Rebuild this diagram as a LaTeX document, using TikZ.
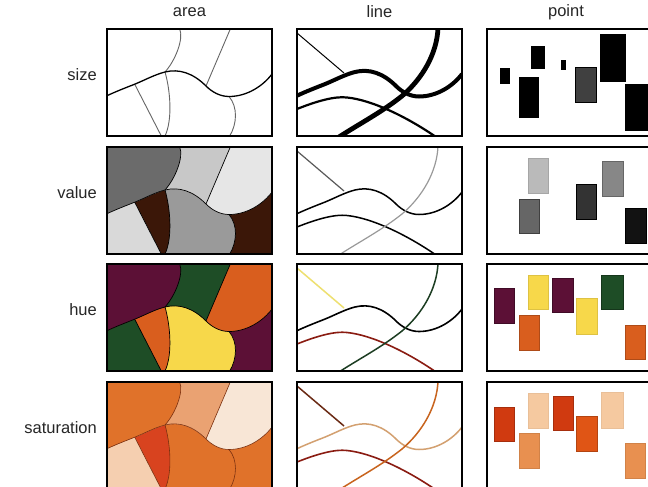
\documentclass[tikz,border=0pt]{standalone}
\usepackage{fontspec}
\setmainfont{Liberation Sans}
% main boundary segments (local panel coords 165 x 107)
\def\mone{.. controls (9,62.5) and (18,59) .. (27.7,55.2)}
\def\mtwo{.. controls (38,51) and (48,45.5) .. (58,43)}
\def\mthree{.. controls (72,39.5) and (86,44) .. (99,57)}
\def\mfour{.. controls (105,63) and (113,67.5) .. (122,67.5)}
\def\mfive{.. controls (140,67.5) and (156,57) .. (165,45)}
\def\rfive{.. controls (156,57) and (140,67.5) .. (122,67.5)}
\def\rfour{.. controls (113,67.5) and (105,63) .. (99,57)}
\def\rthree{.. controls (86,44) and (72,39.5) .. (58,43)}
\def\rtwo{.. controls (48,45.5) and (38,51) .. (27.7,55.2)}
\def\rone{.. controls (18,59) and (9,62.5) .. (0,66.7)}
\definecolor{vTL}{HTML}{6B6B6B}
\definecolor{vTM}{HTML}{C8C8C8}
\definecolor{vTR}{HTML}{E6E6E6}
\definecolor{vBL}{HTML}{D9D9D9}
\definecolor{vBr}{HTML}{3B1708}
\definecolor{vMid}{HTML}{9A9A9A}
\definecolor{hPur}{HTML}{5C1036}
\definecolor{hGrn}{HTML}{1E4D26}
\definecolor{hOra}{HTML}{D95E1E}
\definecolor{hYel}{HTML}{F7D84A}
\definecolor{sOra}{HTML}{E0722A}
\definecolor{sLt}{HTML}{EAA272}
\definecolor{sPale}{HTML}{F8E6D6}
\definecolor{sPeach}{HTML}{F5CFB0}
\definecolor{sRed}{HTML}{D8431F}
\definecolor{sBord}{HTML}{7A3010}
\definecolor{lYel}{HTML}{EEE070}
\definecolor{lRed}{HTML}{8A1C12}
\definecolor{lGrn}{HTML}{1C3D22}
\definecolor{lBrn}{HTML}{6A2A14}
\definecolor{lTan}{HTML}{D3A070}
\definecolor{lOra}{HTML}{C8641E}
\definecolor{pPeach}{HTML}{F5C9A0}
\definecolor{pLtOra}{HTML}{E89050}
\definecolor{pRed}{HTML}{D03A10}
\definecolor{pOraRed}{HTML}{E05515}
% area panel: #1 TL, #2 TM, #3 TR, #4 BL, #5 CD, #6 Mid, #7 BR, #8 line colour, #9 line width
\newcommand\areapanel[9]{%
  \fill[#7] (0,0) rectangle (165,107);
  \fill[#6] (0,66.7) \mone \mtwo \mthree \mfour .. controls (131,78) and (130,95) .. (122.7,107) -- (0,107) -- cycle;
  \fill[#5] (0,66.7) \mone \mtwo .. controls (63,60) and (66,90) .. (58,107) -- (0,107) -- cycle;
  \fill[#4] (0,66.7) \mone -- (54.3,107) -- (0,107) -- cycle;
  \fill[#3] (0,0) -- (165,0) -- (165,45) \rfive \rfour \rthree \rtwo \rone -- cycle;
  \fill[#2] (0,0) -- (123.3,0) -- (99,57) \rthree \rtwo \rone -- cycle;
  \fill[#1] (0,0) -- (72.7,0) .. controls (77,10) and (68,32) .. (58,43) \rtwo \rone -- cycle;
  \draw[#8, line width=#9] (0,66.7) \mone \mtwo \mthree \mfour \mfive;
  \draw[#8, line width=#9] (72.7,0) .. controls (77,10) and (68,32) .. (58,43);
  \draw[#8, line width=#9] (123.3,0) -- (99,57);
  \draw[#8, line width=#9] (27.7,55.2) -- (54.3,107);
  \draw[#8, line width=#9] (58,43) .. controls (63,60) and (66,90) .. (58,107);
  \draw[#8, line width=#9] (122,67.5) .. controls (131,78) and (130,95) .. (122.7,107);
}
% line panel: #1..#4 colours L1..L4, #5..#8 widths
\newcommand\linepanel[8]{%
  \begin{scope}
  \clip (0,0) rectangle (165,107);
  \draw[line width=#5, #1] (0,4) -- (47,44);
  \draw[line width=#7, #3] (0,80) .. controls (20,72) and (38,67) .. (50,68.5) .. controls (75,71) and (110,88) .. (139,108);
  \draw[line width=#6, #2] (0,66.7) \mone \mtwo \mthree \mfour \mfive;
  \draw[line width=#8, #4] (141,-1) .. controls (140,25) and (125,50) .. (105,67) .. controls (85,83) and (62,95) .. (42,108);
  \end{scope}
}
\tikzset{
  frame/.style={draw=black, line width=1.5pt},
  lbl/.style={font=\fontsize{16.5}{18}\selectfont, text=black!85, inner sep=0pt},
  pt/.style={line width=0.5pt}
}
\begin{document}
\begin{tikzpicture}[x=1pt,y=-1pt]
\useasboundingbox (0,0) rectangle (648,487);
\clip (0,0) rectangle (648,487);
\fill[white] (0,0) rectangle (648,487);
% headers
\node[lbl] (harea) at (189.5,12) {area};
\node[lbl] (hline) at (379.5,12) {line};
\node[lbl] (hpoint) at (566,12) {point};
% row labels
\node[lbl, anchor=east] (rsize) at (97,75) {size};
\node[lbl, anchor=east] (rvalue) at (97,193) {value};
\node[lbl, anchor=east] (rhue) at (97,310) {hue};
\node[lbl, anchor=east] (rsat) at (97,428) {saturation};

% ---------- row 1: size ----------
\begin{scope}[shift={(107,29)}]
  \fill[white] (0,0) rectangle (165,107);
  \draw[black!60, line width=0.9pt] (72.7,0) .. controls (77,10) and (68,32) .. (58,43);
  \draw[black!60, line width=0.9pt] (123.3,0) -- (99,57);
  \draw[black!60, line width=0.9pt] (27.7,55.2) -- (54.3,107);
  \draw[black!60, line width=0.9pt] (58,43) .. controls (63,60) and (66,90) .. (58,107);
  \draw[black!60, line width=0.9pt] (122,67.5) .. controls (131,78) and (130,95) .. (122.7,107);
  \draw[black, line width=1.3pt] (0,66.7) \mone \mtwo \mthree \mfour \mfive;
  \draw[frame] (0,0) rectangle (165,107);
\end{scope}
\begin{scope}[shift={(297,29)}]
  \linepanel{black}{black}{black}{black}{1pt}{4pt}{2.2pt}{4.8pt}
  \draw[frame] (0,0) rectangle (165,107);
\end{scope}
\begin{scope}[shift={(487,29)}]
  \fill[black] (12.7,39) rectangle (23.3,54.7);
  \fill[black] (44.3,17.3) rectangle (57.7,40);
  \fill[black] (32,48) rectangle (52,89);
  \fill[black] (73.7,31.3) rectangle (78.7,40.7);
  \filldraw[fill=black!75, draw=black, pt] (88.7,38) rectangle (109.3,73.3);
  \fill[black] (113.3,4.7) rectangle (139.3,53);
  \fill[black] (137.7,54.7) rectangle (161.5,101.7);
  \draw[frame] (0,0) rectangle (165,107);
\end{scope}

% ---------- row 2: value ----------
\begin{scope}[shift={(107,147)}]
  \areapanel{vTL}{vTM}{vTR}{vBL}{vBr}{vMid}{vBr}{black}{0.7pt}
  \draw[frame] (0,0) rectangle (165,107);
\end{scope}
\begin{scope}[shift={(297,147)}]
  \linepanel{black!65}{black}{black}{black!40}{1.2pt}{1.5pt}{1.5pt}{1.2pt}
  \draw[frame] (0,0) rectangle (165,107);
\end{scope}
\begin{scope}[shift={(487,147)}]
  \filldraw[fill=black!27, draw=black!35, pt] (41,11.7) rectangle (61.7,46.7);
  \filldraw[fill=black!60, draw=black!75, pt] (32,52.3) rectangle (52.7,86.7);
  \filldraw[fill=black!80, draw=black, pt] (89.3,37.3) rectangle (109.3,72.7);
  \filldraw[fill=black!47, draw=black!60, pt] (115,14) rectangle (136,49);
  \filldraw[fill=black!93, draw=black, pt] (138,61.7) rectangle (159.3,96);
  \draw[frame] (0,0) rectangle (165,107);
\end{scope}

% ---------- row 3: hue ----------
\begin{scope}[shift={(107,264)}]
  \areapanel{hPur}{hGrn}{hOra}{hGrn}{hOra}{hYel}{hPur}{black}{0.7pt}
  \draw[frame] (0,0) rectangle (165,107);
\end{scope}
\begin{scope}[shift={(297,264)}]
  \linepanel{lYel}{black}{lRed}{lGrn}{1.5pt}{1.6pt}{1.6pt}{1.5pt}
  \draw[frame] (0,0) rectangle (165,107);
\end{scope}
\begin{scope}[shift={(487,264)}]
  \filldraw[fill=hPur, draw=hPur!70!black, pt] (7.7,24) rectangle (27.7,59);
  \filldraw[fill=hYel, draw=hYel!90!black, pt] (41,11.3) rectangle (61,45.7);
  \filldraw[fill=hOra, draw=hOra!80!black, pt] (32,51.3) rectangle (52.7,86.3);
  \filldraw[fill=hPur, draw=hPur!70!black, pt] (65.3,14) rectangle (86.7,48.3);
  \filldraw[fill=hYel, draw=hYel!90!black, pt] (89.3,34.7) rectangle (110,70);
  \filldraw[fill=hGrn, draw=hGrn!70!black, pt] (114.7,11.3) rectangle (136,45.7);
  \filldraw[fill=hOra, draw=hOra!80!black, pt] (138,61.7) rectangle (158.7,95.7);
  \draw[frame] (0,0) rectangle (165,107);
\end{scope}

% ---------- row 4: saturation ----------
\begin{scope}[shift={(107,382)}]
  \areapanel{sOra}{sLt}{sPale}{sPeach}{sRed}{sOra}{sOra}{sBord}{0.6pt}
  \draw[frame] (0,0) rectangle (165,107);
\end{scope}
\begin{scope}[shift={(297,382)}]
  \linepanel{lBrn}{lTan}{lRed}{lOra}{1.5pt}{1.5pt}{1.6pt}{1.5pt}
  \draw[frame] (0,0) rectangle (165,107);
\end{scope}
\begin{scope}[shift={(487,382)}]
  \filldraw[fill=pRed, draw=pRed!80!black, pt] (7.7,25) rectangle (27.7,59);
  \filldraw[fill=pPeach, draw=pPeach!95!black, pt] (41,11.7) rectangle (61,46);
  \filldraw[fill=pLtOra, draw=pLtOra!90!black, pt] (32,51) rectangle (52.7,86);
  \filldraw[fill=pRed, draw=pRed!80!black, pt] (66,14) rectangle (86.7,48.3);
  \filldraw[fill=pOraRed, draw=pOraRed!80!black, pt] (89.3,34) rectangle (110,69.3);
  \filldraw[fill=pPeach, draw=pPeach!95!black, pt] (114.7,10.7) rectangle (136,46);
  \filldraw[fill=pLtOra, draw=pLtOra!90!black, pt] (138,61.7) rectangle (158.7,96);
  \draw[frame] (0,0) rectangle (165,107);
\end{scope}
\end{tikzpicture}
\end{document}
